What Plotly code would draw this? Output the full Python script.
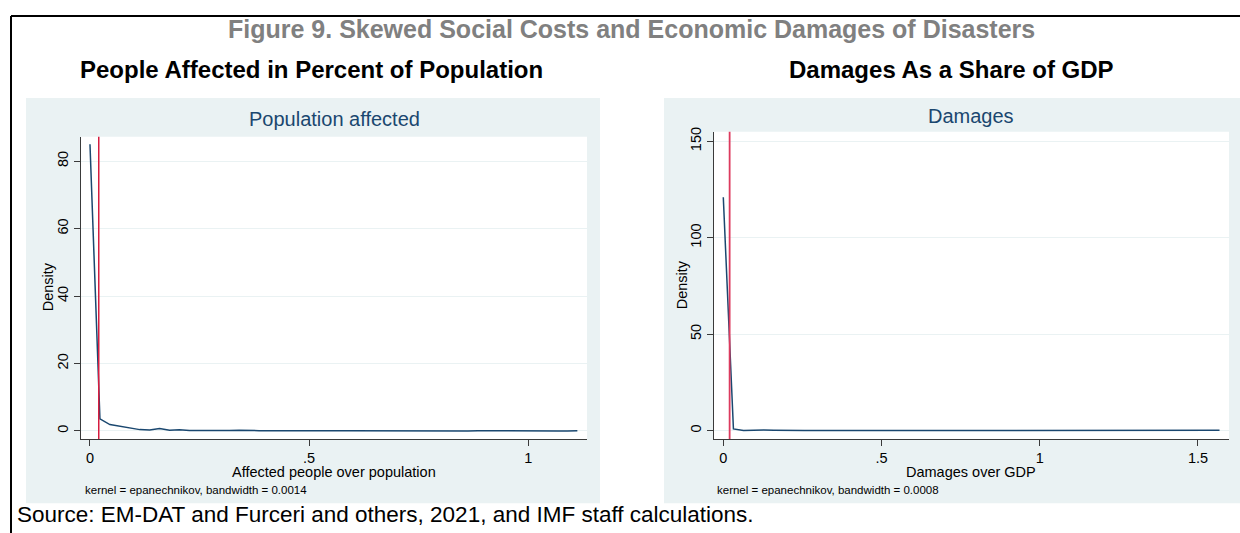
import numpy as np
import plotly.graph_objects as go

W, H = 1240, 533

# Epanechnikov kernel density estimates, 50 evaluation points each
pop_density = [85.0, 3.6, 1.9, 1.4, 0.8, 0.4, 0.3, 0.7, 0.2, 0.35,
               0.15, 0.1, 0.12, 0.1, 0.15, 0.2, 0.05, 0.1, 0.08, 0.05,
               0.06, 0.05, 0.04, 0.05, 0.03, 0.04, 0.05, 0.03, 0.02, 0.03,
               0.05, 0.08, 0.04, 0.02, 0.03, 0.02, 0.03, 0.05, 0.02, 0.06,
               0.03, 0.02, 0.02, 0.02, 0.03, 0.02, 0.02, 0.02, 0.02, 0.03]
pop_xmax = 1.112
pop_ref = 0.02

dmg_density = [121.0, 0.9, 0.1, 0.3, 0.3, 0.2, 0.05, 0.2, 0.1, 0.05,
               0.05, 0.05, 0.05, 0.25, 0.05, 0.3, 0.05, 0.05, 0.03, 0.03,
               0.03, 0.03, 0.03, 0.03, 0.03, 0.03, 0.03, 0.03, 0.03, 0.03,
               0.03, 0.03, 0.03, 0.03, 0.03, 0.03, 0.03, 0.03, 0.03, 0.03,
               0.03, 0.03, 0.03, 0.03, 0.03, 0.05, 0.1, 0.35, 0.05, 0.2]
dmg_xmax = 1.568
dmg_ref = 0.02

pop_ticks = [0, 0.5, 1]
pop_ticktext = ["0", ".5", "1"]
pop_yticks = [0, 20, 40, 60, 80]
dmg_ticks = [0, 0.5, 1, 1.5]
dmg_ticktext = ["0", ".5", "1", "1.5"]
dmg_yticks = [0, 50, 100, 150]

pop_x = np.linspace(0, pop_xmax, len(pop_density))
dmg_x = np.linspace(0, dmg_xmax, len(dmg_density))

FONT = "Liberation Sans, Arial, sans-serif"
NAVY = "#1a476f"
RED_L = "#d61c3f"
RED_R = "#dc3a5e"
PANEL = "#eaf2f3"
AXIS = "#3a3a3a"


def px(x):
    return x / W


def py(y):
    return 1 - y / H


fig = go.Figure()
fig.add_trace(go.Scatter(x=pop_x, y=pop_density, mode="lines",
                         line=dict(color=NAVY, width=1.5),
                         xaxis="x", yaxis="y", hoverinfo="skip"))
fig.add_trace(go.Scatter(x=dmg_x, y=dmg_density, mode="lines",
                         line=dict(color=NAVY, width=1.5),
                         xaxis="x2", yaxis="y2", hoverinfo="skip"))

tickfont = dict(family=FONT, size=14.5, color="black")


def xaxis(domain, rng, vals, text, anchor):
    return dict(domain=domain, range=rng, tickvals=vals, ticktext=text,
                showline=True, linecolor=AXIS, linewidth=1, ticks="outside",
                ticklen=6, tickcolor=AXIS, tickwidth=1, showgrid=False,
                zeroline=False, anchor=anchor, tickfont=tickfont, fixedrange=True)


def yaxis(domain, rng, vals, anchor):
    return dict(domain=domain, range=rng, tickvals=vals,
                showline=True, linecolor=AXIS, linewidth=1, ticks="outside",
                ticklen=6, tickcolor=AXIS, tickwidth=1, showgrid=True,
                gridcolor=PANEL, gridwidth=1.2, zeroline=False, anchor=anchor,
                tickangle=-90, tickfont=tickfont, fixedrange=True)


# plot regions in pixel coordinates
L = dict(x0=81, x1=587, y0=133, y1=438)
R = dict(x0=714, x1=1229, y0=128, y1=438)

fig.update_layout(
    width=W, height=H,
    margin=dict(l=0, r=0, t=0, b=0),
    paper_bgcolor="white",
    plot_bgcolor="rgba(0,0,0,0)",
    showlegend=False,
    xaxis=xaxis([px(L["x0"]), px(L["x1"])], [-0.0205, 1.134], pop_ticks, pop_ticktext, "y"),
    yaxis=yaxis([py(L["y1"]), py(L["y0"])], [-2.35, 87.25], pop_yticks, "x"),
    xaxis2=xaxis([px(R["x0"]), px(R["x1"])], [-0.0294, 1.598], dmg_ticks, dmg_ticktext, "y2"),
    yaxis2=yaxis([py(R["y1"]), py(R["y0"])], [-4.26, 154.9], dmg_yticks, "x2"),
)

shapes = []
# light panel backgrounds
for x0, x1 in [(26, 600), (664, 1245)]:
    shapes.append(dict(type="rect", xref="paper", yref="paper",
                       x0=px(x0), x1=px(x1), y0=py(503), y1=py(94),
                       fillcolor=PANEL, line=dict(width=0), layer="below"))
# white plot regions
for r in (L, R):
    shapes.append(dict(type="rect", xref="paper", yref="paper",
                       x0=px(r["x0"]), x1=px(r["x1"]), y0=py(r["y1"]), y1=py(r["y0"]),
                       fillcolor="white", line=dict(width=0), layer="below"))
# reference lines
shapes.append(dict(type="line", xref="x", yref="y domain", x0=pop_ref, x1=pop_ref,
                   y0=0, y1=1, line=dict(color=RED_L, width=1.5)))
shapes.append(dict(type="line", xref="x2", yref="y2 domain", x0=dmg_ref, x1=dmg_ref,
                   y0=0, y1=1, line=dict(color=RED_R, width=1.8)))
# frame
shapes.append(dict(type="line", xref="paper", yref="paper", x0=px(11), x1=px(1245),
                   y0=py(11), y1=py(11), line=dict(color="black", width=2)))
shapes.append(dict(type="line", xref="paper", yref="paper", x0=px(11), x1=px(11),
                   y0=py(11), y1=py(540), line=dict(color="black", width=2)))
fig.update_layout(shapes=shapes)


def text(x, y, s, size, color="black", bold=False, xanchor="center", angle=0):
    if bold:
        s = "<b>" + s + "</b>"
    fig.add_annotation(x=px(x), y=py(y), xref="paper", yref="paper", text=s,
                       showarrow=False, xanchor=xanchor, yanchor="middle",
                       textangle=angle,
                       font=dict(family=FONT, size=size, color=color))


text(631, 24.5, "Figure 9. Skewed Social Costs and Economic Damages of Disasters", 25,
     color="#808080", bold=True)
text(312, 65, "People Affected in Percent of Population", 24, bold=True)
text(951, 65, "Damages As a Share of GDP", 24, bold=True)
text(334, 115, "Population affected", 20, color=NAVY)
text(971, 112, "Damages", 20, color=NAVY)
text(48, 285, "Density", 14.5, angle=-90)
text(682, 283, "Density", 14.5, angle=-90)
text(334, 471, "Affected people over population", 14.5)
text(971, 471, "Damages over GDP", 14.5)
text(83, 490, "kernel = epanechnikov, bandwidth = 0.0014", 11.5, xanchor="left")
text(715, 490, "kernel = epanechnikov, bandwidth = 0.0008", 11.5, xanchor="left")
text(15, 514, "Source: EM-DAT and Furceri and others, 2021, and IMF staff calculations.", 22.5,
     xanchor="left")

fig.write_html("out.html")
